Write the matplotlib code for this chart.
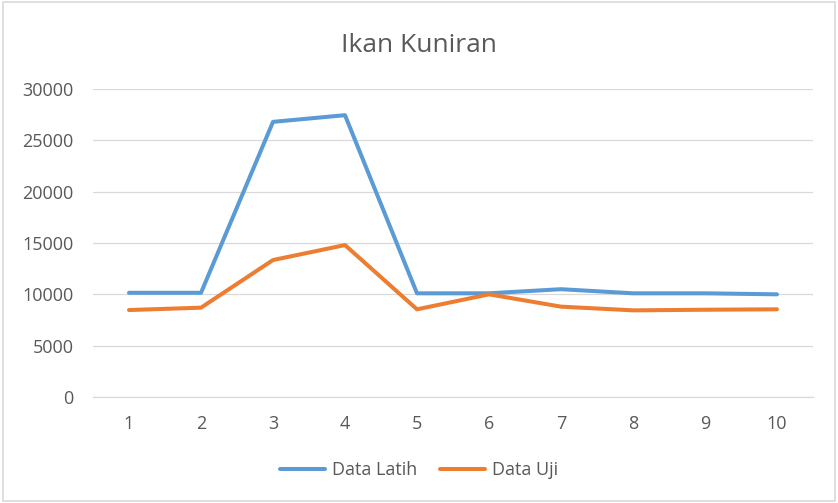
import matplotlib
matplotlib.use('Agg')
import matplotlib.pyplot as plt
from matplotlib.patches import Rectangle

# Data
x_labels = ['1', '2', '3', '4', '5', '6', '7', '8', '9', '10']
data_latih = [10150, 10150, 26800, 27450, 10100, 10100, 10500, 10100, 10100, 10000]
data_uji = [8470, 8700, 13340, 14800, 8540, 10000, 8800, 8440, 8500, 8540]
y_ticks = [0, 5000, 10000, 15000, 20000, 25000, 30000]

plt.rcParams['font.family'] = ['Open Sans', 'DejaVu Sans']
text_color = '#595959'

fig = plt.figure(figsize=(8.38, 5.03), dpi=100)
ax = fig.add_axes([93 / 838, 1 - 397 / 503, 720 / 838, 308 / 503])

# Chart border
fig.patches.append(Rectangle((0.004, 0.004), 0.992, 0.992, transform=fig.transFigure,
                             fill=False, edgecolor='#d9d9d9', linewidth=1.2))

xs = list(range(1, len(x_labels) + 1))
ax.plot(xs, data_latih, color='#5B9BD5', linewidth=2.9, solid_capstyle='round',
        solid_joinstyle='round', label='Data Latih', zorder=3)
ax.plot(xs, data_uji, color='#ED7D31', linewidth=2.9, solid_capstyle='round',
        solid_joinstyle='round', label='Data Uji', zorder=3)

ax.set_xlim(0.5, len(x_labels) + 0.5)
ax.set_ylim(0, 30000)
ax.set_xticks(xs)
ax.set_xticklabels(x_labels)
ax.set_yticks(y_ticks)
ax.yaxis.grid(True, color='#d9d9d9', linewidth=0.9)
ax.set_axisbelow(True)

for side in ['top', 'right', 'left']:
    ax.spines[side].set_visible(False)
ax.spines['bottom'].set_color('#d9d9d9')
ax.spines['bottom'].set_linewidth(0.9)
ax.tick_params(axis='both', length=0, labelsize=13, labelcolor=text_color)
ax.tick_params(axis='x', pad=13)
ax.tick_params(axis='y', pad=14)

fig.text(0.5, 1 - 52 / 503, 'Ikan Kuniran', ha='center', va='baseline',
         fontsize=19, color=text_color)

fig.legend(loc='center', bbox_to_anchor=(0.5, 1 - 470 / 503), ncol=2, frameon=False,
           fontsize=13, labelcolor=text_color, handlelength=2.5, handletextpad=0.35,
           columnspacing=1.3)

fig.savefig('out.png', dpi=100)
